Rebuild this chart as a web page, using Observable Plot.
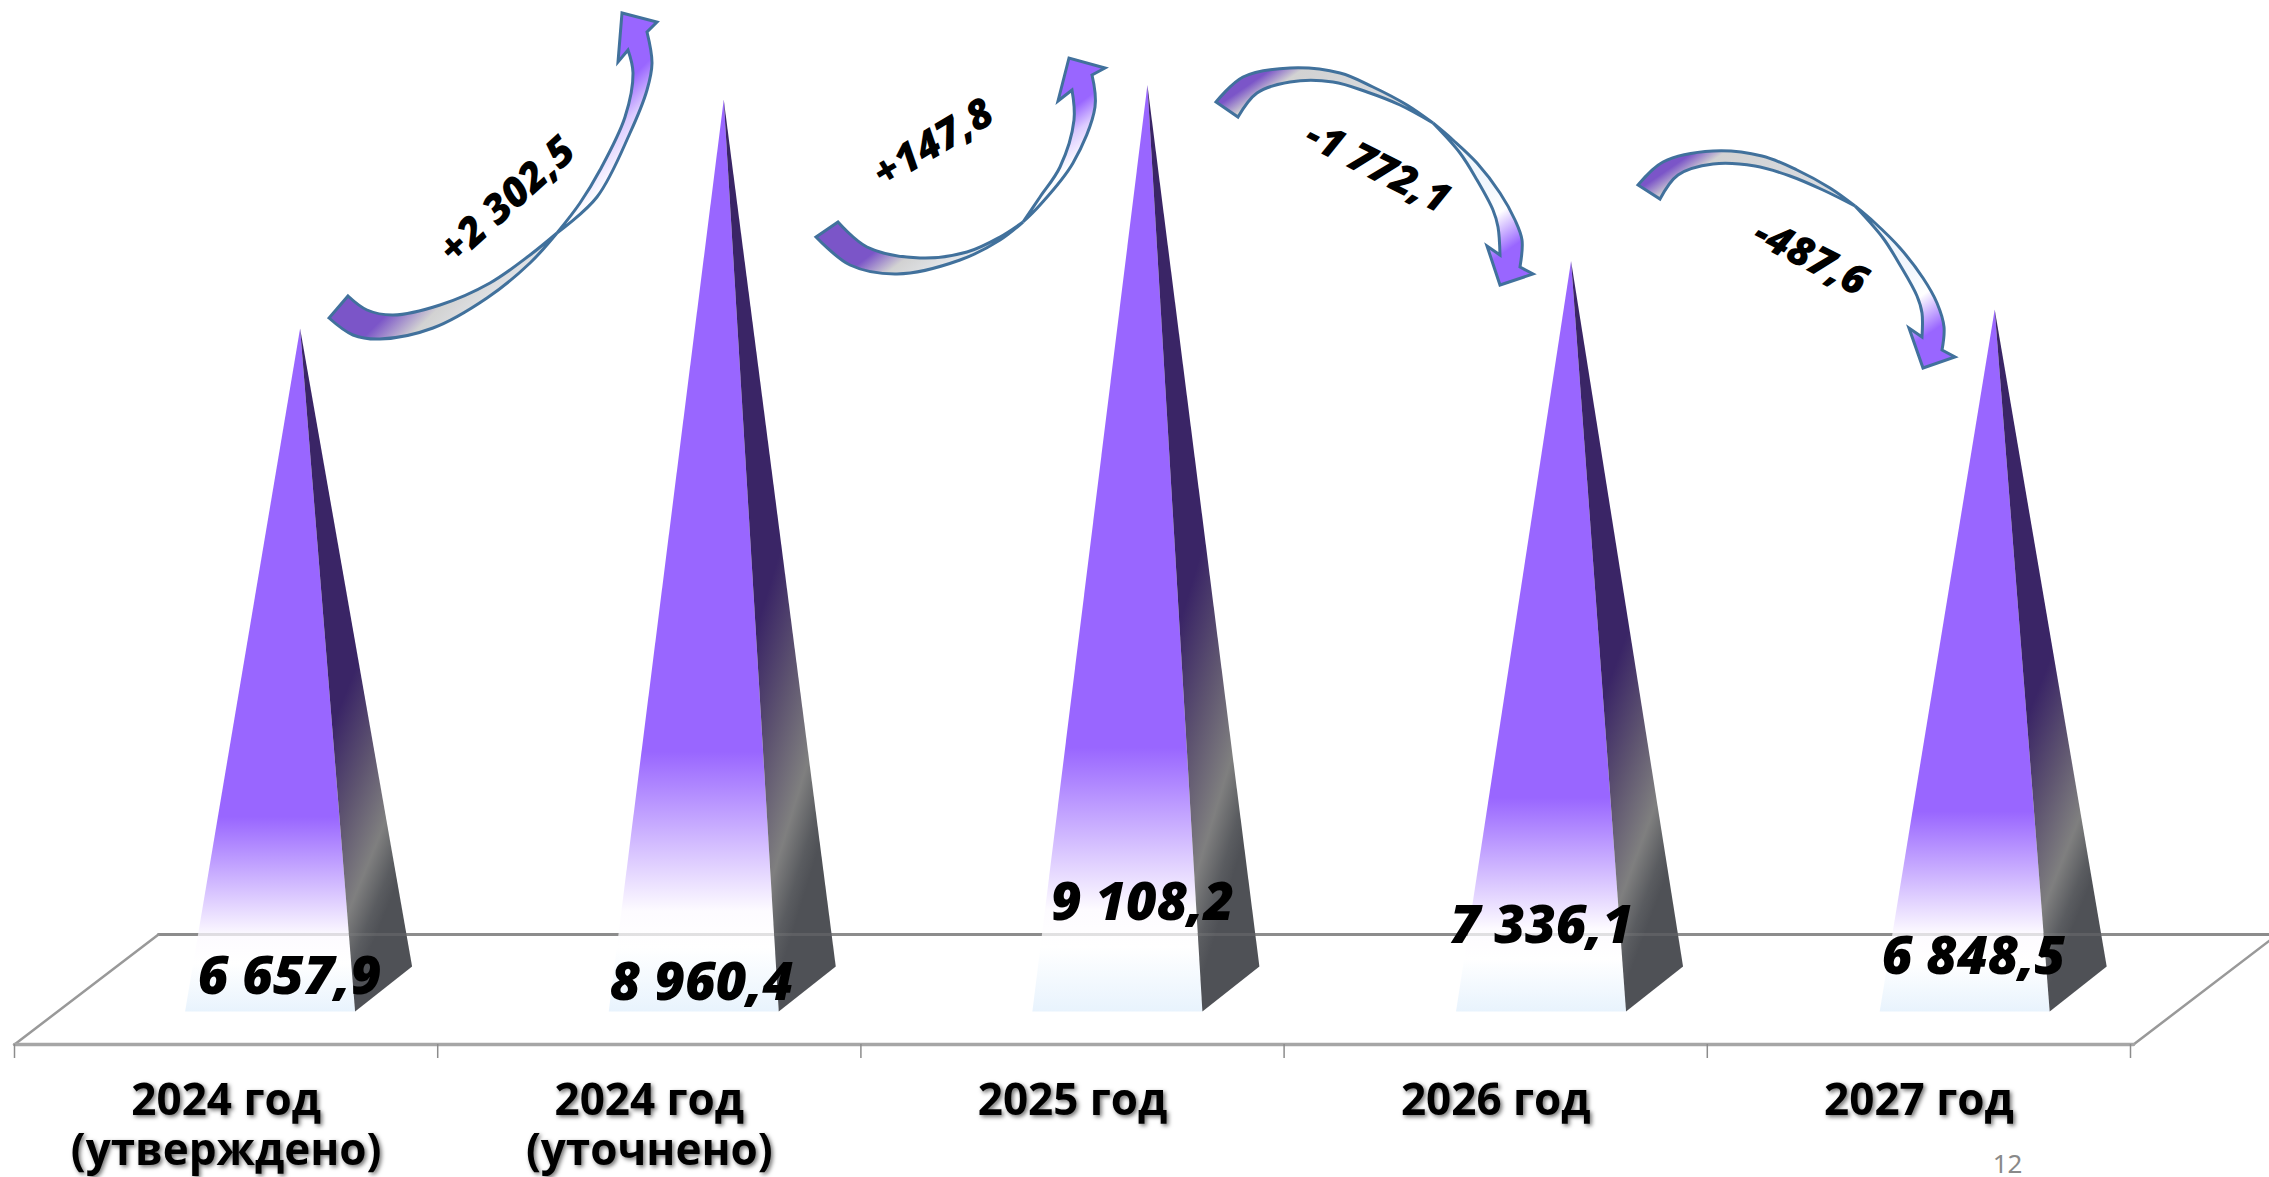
<!DOCTYPE html>
<html><head><meta charset="utf-8">
<script src="https://cdn.jsdelivr.net/npm/d3@7"></script>
<script src="https://cdn.jsdelivr.net/npm/@observablehq/plot@0.6"></script>
<style>
html,body{margin:0;padding:0;background:#fff;overflow:hidden}
svg{display:block;max-width:none!important}
g[aria-label="shadowed"] text, g[aria-label="x-axis tick label"] text{filter:drop-shadow(2.5px 2.5px 2px rgba(0,0,0,.55))}
</style></head><body><div id="chart"></div>
<script>
// ---- data ----
const categories = ["2024 год\n(утверждено)","2024 год\n(уточнено)","2025 год","2026 год","2027 год"];
const values = [6657.9, 8960.4, 9108.2, 7336.1, 6848.5];
const valueLabels = ["6 657,9","8 960,4","9 108,2","7 336,1","6 848,5"];
const deltaLabels = ["+2 302,5","+147,8","-1 772,1","-487,6"];
const pageNumber = "12";

// ---- layout (pixels of the 2269x1177 frame) ----
const W = 2269, H = 1177, x0 = 14, step = 423.2, zeroY = 989.5, topY = 84.5;
const vMax = d3.max(values);
const sx = px => (px - x0) / step;
const sy = px => (zeroY - px) / (zeroY - topY) * vMax;
const apexShift = 74, apexStretch = .45, baseFrontY = 1011, baseBackY = 966;
const baseL = -115, baseR = 55, backR = 112;
const floorFront = 1044, floorBack = 934, floorSkew = 144, floorEnd = 2133;
const valueLabelPos = [[289,977],[701,983],[1142,903],[1541,926],[1973,957]];
const deltaLabelPos = [[507,200,-42],[933,143,-31],[1377,167,27],[1810,257,27]];

const apexX = i => i + 0.5 + (apexShift + i * apexStretch) / step;
const front = values.flatMap((v,i) => [
  {b:i, x:apexX(i)+baseL/step, y:sy(baseFrontY)},
  {b:i, x:apexX(i)+baseR/step, y:sy(baseFrontY)},
  {b:i, x:apexX(i), y:v}]);
const side = values.flatMap((v,i) => [
  {b:i, x:apexX(i)+baseR/step, y:sy(baseFrontY)},
  {b:i, x:apexX(i)+backR/step, y:sy(baseBackY)},
  {b:i, x:apexX(i), y:v}]);

// floor outline
const fx = sx(x0), fxEnd = sx(floorEnd);
const floorFrontLine = [[fx,sy(floorFront)],[fxEnd,sy(floorFront)]];
const floorBackLine = [[sx(x0+floorSkew),sy(floorBack)],[sx(W+40),sy(floorBack)]];
const floorLeft = [[fx,sy(floorFront)],[sx(x0+floorSkew),sy(floorBack)]];
const floorRight = [[fxEnd,sy(floorFront)],[sx(floorEnd+floorSkew),sy(floorBack)]];
const ln = (pts,o) => Plot.line(pts,{x:d=>d[0],y:d=>d[1],...o});

// Curved annotation arrows: back lens (tail) + front lens (head)
const arrows = [
 {rise:true,
  backOuter:[[329,318],[353,335],[380,339],[433,328],[487,298],[530,263],[557,233]],
  backInner:[[348,296],[367,310],[393,315],[440,305],[490,283],[530,255],[557,233]],
  frontOuter:[[557,233],[597,197],[630,133],[647,90],[652,63],[647,32]],
  head:[[657,22],[622,13],[618,62],[628,50]],
  frontInner:[[628,50],[633,73],[625,117],[600,170],[580,203],[557,233]]},
 {rise:true,
  backOuter:[[816,237],[850,265],[897,274],[960,260],[1000,240],[1023,222]],
  backInner:[[838,222],[867,247],[920,258],[967,252],[1000,237],[1023,222]],
  frontOuter:[[1023,222],[1040,205],[1073,163],[1095,107],[1092,75]],
  head:[[1105,68],[1069,58],[1058,101],[1072,90]],
  frontInner:[[1072,90],[1074,120],[1060,167],[1040,197],[1023,222]]},
 {rise:false,
  backOuter:[[1216,102],[1243,77],[1290,68],[1340,73],[1373,87],[1407,105],[1433,123]],
  backInner:[[1238,117],[1257,93],[1290,82],[1333,82],[1367,92],[1400,105],[1433,123]],
  frontOuter:[[1433,123],[1453,140],[1477,163],[1500,193],[1515,220],[1522,240],[1520,267]],
  head:[[1533,274],[1500,285],[1487,246],[1500,255]],
  frontInner:[[1500,255],[1498,227],[1493,210],[1477,180],[1460,153],[1433,123]]},
 {rise:false,
  backOuter:[[1638,185],[1663,162],[1713,151],[1762,156],[1797,170],[1830,188],[1855,206]],
  backInner:[[1660,199],[1678,175],[1713,164],[1755,166],[1790,176],[1823,190],[1855,206]],
  frontOuter:[[1855,206],[1875,223],[1900,248],[1923,278],[1937,303],[1944,327],[1942,350]],
  head:[[1955,357],[1923,368],[1909,328],[1922,337]],
  frontInner:[[1922,337],[1922,313],[1917,296],[1900,265],[1883,238],[1855,206]]}
];
const riseStops = {
  back:[[0,"#7b55c8"],[.55,"#7b55c8"],[.62,"#d2d2d2"],[.72,"#e6e9ee"],[1,"#f4f8fd"]],
  front:[[0,"#9966ff"],[.56,"#9966ff"],[.62,"#dccbff"],[.69,"#ffffff"],[.8,"#eef5fd"],[1,"#eef5fd"]]};
const fallStops = {
  back:[[0,"#7b55c8"],[.09,"#7b55c8"],[.14,"#d2d2d2"],[.3,"#d6d8dc"],[1,"#f4f8fd"]],
  front:[[0,"#eef5fd"],[.7,"#f2f7fd"],[.78,"#ffffff"],[.88,"#9966ff"],[1,"#9966ff"]]};
const smooth = pts => d3.line().curve(d3.curveCatmullRom)(pts).replace(/^M/,"L");

function defsMark(){
  const s = d3.create("svg:g");
  const d = s.append("defs");
  const grad = (id,attrs,stops) => {
    const g = d.append("linearGradient").attr("id",id);
    Object.entries(attrs).forEach(([k,v])=>g.attr(k,v));
    stops.forEach(([o,c])=>g.append("stop").attr("offset",o).attr("stop-color",c));
  };
  grad("frontFill",{x1:0,y1:0,x2:0,y2:1},[[0,"#9966ff"],[.715,"#9966ff"],[.89,"#fdfbff"],[.93,"#ffffff"],[1,"#e8f3fd"]]);
  grad("sideFill",{x1:0,y1:0,x2:.4,y2:1},[[0,"#3a2566"],[.6,"#3a2566"],[.75,"#5e5470"],[.885,"#7f7f7f"],[.96,"#5a5c60"],[1,"#4f5156"]]);
  arrows.forEach((a,i)=>{
    const all = [...a.backOuter,...a.backInner,...a.frontOuter,...a.head,...a.frontInner];
    const [xa,xb]=d3.extent(all,p=>p[0]),[ya,yb]=d3.extent(all,p=>p[1]);
    const w=xb-xa,h=yb-ya,n=Math.hypot(w,h),L=2*w*h/n;
    const attrs={gradientUnits:"userSpaceOnUse",x1:xa,y1:ya,x2:xa+h/n*L,y2:ya+w/n*L};
    const st=a.rise?riseStops:fallStops;
    grad(`arrowBack${i}`,attrs,st.back);
    grad(`arrowFront${i}`,attrs,st.front);
  });
  return s.node();
}
function arrowMark(){
  const s = d3.create("svg:g").attr("aria-label","arrows");
  arrows.forEach((a,i)=>{
    const back = `M${a.backOuter[0]}`+smooth(a.backOuter)+smooth([...a.backInner].reverse())+"Z";
    const head = a.head.map(p=>`L${p}`).join("");
    const front = `M${a.frontOuter[0]}`+smooth(a.frontOuter)+head+smooth(a.frontInner)+"Z";
    [[back,`arrowBack${i}`],[front,`arrowFront${i}`]].forEach(([d,id])=>
      s.append("path").attr("d",d).attr("fill",`url(#${id})`)
       .attr("stroke","#41719c").attr("stroke-width",3).attr("stroke-linejoin","miter"));
  });
  return s.node();
}

const labelFont = {fontFamily:"'Open Sans',sans-serif",fontWeight:700,fill:"#000"};
const chart = Plot.plot({
  width:W,height:H,margin:0,marginBottom:H-floorFront,
  x:{type:"linear",domain:[0,5],range:[x0,x0+5*step],axis:null},
  y:{type:"linear",domain:[0,vMax],range:[zeroY,topY],axis:null},
  style:{background:"#fff",overflow:"hidden"},
  marks:[
    defsMark,
    ln(floorBackLine,{stroke:"#8c8c8c",strokeWidth:3}),
    ln(floorLeft,{stroke:"#999",strokeWidth:2.5}),
    ln(floorRight,{stroke:"#999",strokeWidth:2.5}),
    ln(floorFrontLine,{stroke:"#a6a6a6",strokeWidth:3.5}),
    Plot.axisX({ticks:d3.range(6),tickSize:14,tickFormat:()=>"",stroke:"#8c8c8c",strokeWidth:1.5,label:null}),
    Plot.line(front,{x:"x",y:"y",z:"b",fill:"url(#frontFill)",stroke:"none"}),
    Plot.line(side,{x:"x",y:"y",z:"b",fill:"url(#sideFill)",stroke:"none"}),
    ln(floorBackLine,{stroke:"#8c8c8c",strokeWidth:3,strokeOpacity:.25}),
    arrowMark,
    Plot.axisX(categories.map((_,i)=>i+.5),{
      tickSize:0,tickPadding:35,lineAnchor:"top",lineHeight:1.14,
      tickFormat:d=>categories[d-.5],fontSize:44,...labelFont,textStroke:"none",label:null,textOverflow:null}),
    ...values.map((v,i)=>Plot.text([valueLabels[i]],{
      x:()=>sx(valueLabelPos[i][0]),y:()=>sy(valueLabelPos[i][1]),text:d=>d,
      fontSize:53,...labelFont,fontWeight:800,fontStyle:"italic",textAnchor:"middle",lineAnchor:"middle",ariaLabel:"shadowed"})),
    ...deltaLabels.map((t,i)=>Plot.text([t],{
      x:()=>sx(deltaLabelPos[i][0]),y:()=>sy(deltaLabelPos[i][1]),text:d=>d,rotate:deltaLabelPos[i][2],
      fontSize:41,...labelFont,fontWeight:800,fontStyle:"italic",textAnchor:"middle",lineAnchor:"middle",ariaLabel:"shadowed"})),
    Plot.text([pageNumber],{x:()=>sx(2007),y:()=>sy(1164),text:d=>d,fontSize:26,fontFamily:"'Noto Sans',sans-serif",fill:"#898989",textAnchor:"middle",lineAnchor:"middle",ariaLabel:"page"})
  ]
});
document.getElementById("chart").appendChild(chart);
</script></body></html>
